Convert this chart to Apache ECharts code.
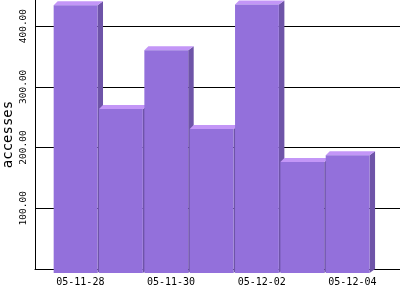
<!DOCTYPE html>
<html>
<head>
<meta charset="utf-8">
<script src="https://cdn.jsdelivr.net/npm/echarts@6/dist/echarts.min.js"></script>
<style>html,body{margin:0;padding:0;background:#fff}#c{width:400px;height:300px}</style>
</head>
<body>
<div id="c"></div>
<script>
const categories = ['05-11-28','05-11-29','05-11-30','05-12-01','05-12-02','05-12-03','05-12-04'];
const accesses = [441, 270, 367, 237, 442, 183, 194];
const yTicks = [100, 200, 300, 400];

const FRONT = '#9370DB', TOP = '#C396F7', SIDE = '#6E54A8';
const DX = 4, DY = 4;

const chart = echarts.init(document.getElementById('c'), null, {renderer: 'canvas'});
chart.setOption({
  animation: false,
  backgroundColor: '#fff',
  grid: {left: 35, right: 0, top: 0, bottom: 31, containLabel: false, outerBoundsMode: 'none'},
  xAxis: {
    type: 'value', min: -1, max: 7.05, interval: 1,
    axisLine: {show: true, onZero: false, lineStyle: {color: '#000', width: 1}},
    axisTick: {show: false},
    splitLine: {show: false},
    axisLabel: {
      margin: 8, color: '#000', fontFamily: 'DejaVu Sans Mono', fontSize: 10,
      showMinLabel: true, showMaxLabel: true,
      formatter: function (val) {
        const i = Math.round(val);
        if (Math.abs(val - i) < 1e-6 && i >= 0 && i < categories.length && i % 2 === 0) return categories[i];
        return '';
      }
    }
  },
  yAxis: {
    type: 'value', min: 0, max: 443, interval: 100,
    name: 'accesses', nameLocation: 'middle', nameRotate: 90, nameGap: 20, nameMoveOverlap: false,
    nameTextStyle: {color: '#000', fontFamily: 'DejaVu Sans Mono', fontSize: 14},
    axisLine: {show: true, onZero: false, lineStyle: {color: '#000', width: 1}},
    axisTick: {show: false},
    splitLine: {show: true, showMinLine: false, showMaxLine: false, lineStyle: {color: '#000', width: 1}},
    axisLabel: {
      rotate: 90, margin: 6, color: '#000', fontFamily: 'DejaVu Sans Mono', fontSize: 9.5,
      formatter: function (v) { return yTicks.indexOf(v) >= 0 ? v.toFixed(2) : ''; }
    }
  },
  series: [{
    type: 'custom',
    data: accesses.map(function (v, i) { return [i, v]; }),
    renderItem: function (params, api) {
      const x = api.value(0), v = api.value(1);
      const top = api.coord([x, v]);
      const base = api.coord([x, 0]);
      const band = api.size([1, 0])[0];
      const fx0 = top[0] - band / 2 - DX;
      const fx1 = top[0] + band / 2 - DX - 1.5;
      const fyT = top[1] + DY;
      const fyB = base[1] + DY;
      return {
        type: 'group',
        children: [
          {type: 'polygon', shape: {points: [[fx1, fyT], [fx1 + DX + 1.5, fyT - DY], [fx1 + DX + 1.5, fyB - DY], [fx1, fyB]]}, style: {fill: SIDE}},
          {type: 'polygon', shape: {points: [[fx0, fyT], [fx1, fyT], [fx1 + DX + 1.5, fyT - DY], [fx0 + DX, fyT - DY]]}, style: {fill: TOP}},
          {type: 'rect', shape: {x: fx0, y: fyT, width: fx1 - fx0, height: fyB - fyT}, style: {fill: FRONT}}
        ]
      };
    }
  }]
});
</script>
</body>
</html>
